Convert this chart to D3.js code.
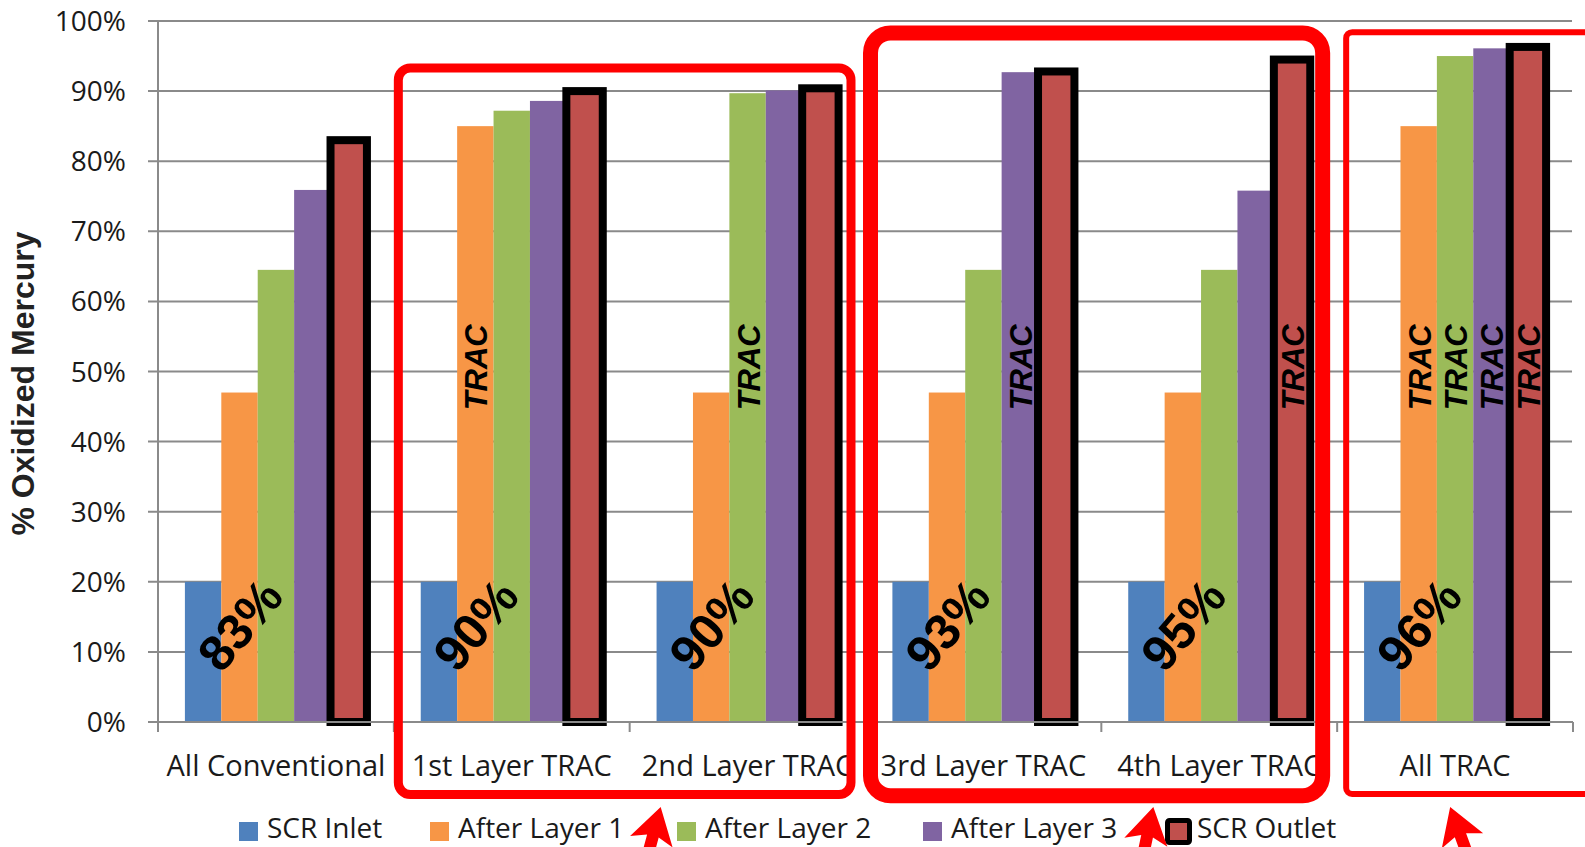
<!DOCTYPE html>
<html>
<head>
<meta charset="utf-8">
<script src="https://cdn.jsdelivr.net/npm/d3@7"></script>
<style>
  html, body { margin: 0; padding: 0; background: #fff; }
  svg { display: block; }
</style>
</head>
<body>
<script>
// ---------------- DATA ----------------
const categories = ["All Conventional", "1st Layer TRAC", "2nd Layer TRAC", "3rd Layer TRAC", "4th Layer TRAC", "All TRAC"];
const seriesNames = ["SCR Inlet", "After Layer 1", "After Layer 2", "After Layer 3", "SCR Outlet"];
const scrInlet    = [20, 20, 20, 20, 20, 20];
const afterLayer1 = [47, 85, 47, 47, 47, 85];
const afterLayer2 = [64.5, 87.2, 89.7, 64.5, 64.5, 95.0];
const afterLayer3 = [75.9, 88.6, 90.1, 92.7, 75.8, 96.1];
const scrOutlet   = [83.0, 90.0, 90.4, 92.8, 94.5, 96.3];
const outletLabels = ["83%", "90%", "90%", "93%", "95%", "96%"];
// which series (index into seriesNames) carry the "TRAC" tag, per category
const tracSeries = [[], [1], [2], [3], [4], [1, 2, 3, 4]];
const yTicks = [0, 10, 20, 30, 40, 50, 60, 70, 80, 90, 100];
const yTitle = "% Oxidized Mercury";
// highlighted groups of categories (first, last)
const highlightGroups = [["1st Layer TRAC", "2nd Layer TRAC"], ["3rd Layer TRAC", "4th Layer TRAC"], ["All TRAC", "All TRAC"]];

const seriesValues = [scrInlet, afterLayer1, afterLayer2, afterLayer3, scrOutlet];
const colors = ["#4F81BD", "#F79646", "#9BBB59", "#8064A2", "#C0504D"];

// ---------------- LAYOUT ----------------
const W = 1585, H = 847;
const svg = d3.select("body").append("svg").attr("width", W).attr("height", H);
svg.append("rect").attr("width", W).attr("height", H).attr("fill", "#fff");

const x0 = d3.scaleBand().domain(categories).range([158, 1573]).paddingInner(0).paddingOuter(0);
const x1 = d3.scaleBand().domain(seriesNames).range([0, x0.bandwidth()]).paddingInner(0).paddingOuter(0.739);
const y = d3.scaleLinear().domain([0, 100]).range([722, 21]);

const calibri = "'Open Sans', 'Noto Sans', sans-serif";
const arialB = "'Liberation Sans', Arial, sans-serif";
const gridCol = "#8a8a8a";

// gridlines
svg.append("g").selectAll("line").data(yTicks).join("line")
  .attr("x1", 148).attr("x2", 1572)
  .attr("y1", d => y(d)).attr("y2", d => y(d))
  .attr("stroke", gridCol).attr("stroke-width", 2);

// bars
const table = [];
categories.forEach((c, ci) => seriesNames.forEach((s, si) => table.push({c, ci, s, si, v: seriesValues[si][ci]})));
const barG = svg.append("g");
barG.selectAll("rect").data(table).join("rect")
  .attr("x", d => x0(d.c) + x1(d.s))
  .attr("y", d => y(d.v))
  .attr("width", x1.bandwidth())
  .attr("height", d => y(0) - y(d.v))
  .attr("fill", d => colors[d.si])
  .attr("stroke", d => d.si === 4 ? "#000" : "none")
  .attr("stroke-width", d => d.si === 4 ? 8 : 0);

// axes lines
svg.append("line").attr("x1", 158).attr("x2", 158).attr("y1", y(100)).attr("y2", y(0))
  .attr("stroke", gridCol).attr("stroke-width", 2);
svg.append("line").attr("x1", 148).attr("x2", 1573).attr("y1", y(0)).attr("y2", y(0))
  .attr("stroke", gridCol).attr("stroke-width", 2);
// x ticks at category boundaries
const bounds = categories.map(c => x0(c)).concat([x0.range()[1]]);
svg.append("g").selectAll("line").data(bounds).join("line")
  .attr("x1", d => d).attr("x2", d => d).attr("y1", y(0)).attr("y2", y(0) + 10)
  .attr("stroke", gridCol).attr("stroke-width", 2);

// y tick labels
svg.append("g").selectAll("text").data(yTicks).join("text")
  .attr("x", 126).attr("y", d => y(d) + 10)
  .attr("text-anchor", "end")
  .attr("font-family", calibri).attr("font-size", 28).attr("fill", "#1a1a1a")
  .text(d => d + "%");

// category labels
svg.append("g").selectAll("text").data(categories).join("text")
  .attr("x", d => x0(d) + x0.bandwidth() / 2).attr("y", 776)
  .attr("text-anchor", "middle")
  .attr("font-family", calibri).attr("font-size", 29).attr("fill", "#1a1a1a")
  .text(d => d);

// y axis title
svg.append("text")
  .attr("transform", `translate(34,${(y(0) + y(100)) / 2 + 12}) rotate(-90)`)
  .attr("text-anchor", "middle")
  .attr("font-family", arialB).attr("font-weight", "bold").attr("font-size", 32).attr("fill", "#222")
  .text(yTitle);

// TRAC tags
const tracData = [];
tracSeries.forEach((arr, ci) => arr.forEach(si => tracData.push({c: categories[ci], s: seriesNames[si]})));
svg.append("g").selectAll("text").data(tracData).join("text")
  .attr("transform", d => `translate(${x0(d.c) + x1(d.s) + x1.bandwidth() / 2 + 12},${y(50.6)}) rotate(-90)`)
  .attr("text-anchor", "middle")
  .attr("font-family", arialB).attr("font-weight", "bold").attr("font-style", "italic")
  .attr("font-size", 31).attr("fill", "#000")
  .text("TRAC");

// outlet % labels (rotated)
svg.append("g").selectAll("text").data(categories).join("text")
  .attr("transform", d => `translate(${x0(d) + x1(seriesNames[1]) + x1.bandwidth() / 2},${y(13.9)}) rotate(-50)`)
  .attr("text-anchor", "middle").attr("dy", "0.36em")
  .attr("font-family", arialB).attr("font-weight", "bold")
  .attr("font-size", 50).attr("fill", "#000")
  .text((d, i) => outletLabels[i]);

// red highlight boxes
const boxStyles = [
  {dl: 4.5, dr: -14.5, top: 93.3, bottom: 72.5, sw: 9, r: 12},
  {dl: 5, dr: -14.5, top: 98.3, bottom: 73.7, sw: 15, r: 20},
  {dl: 9, dr: 300, top: 98.4, bottom: 72, sw: 6, r: 6}
];
svg.append("g").selectAll("rect").data(highlightGroups).join("rect")
  .attr("x", (d, i) => x0(d[0]) + boxStyles[i].dl)
  .attr("y", (d, i) => y(boxStyles[i].top))
  .attr("width", (d, i) => x0(d[1]) + x0.bandwidth() + boxStyles[i].dr - (x0(d[0]) + boxStyles[i].dl))
  .attr("height", (d, i) => y(0) + boxStyles[i].bottom - y(boxStyles[i].top))
  .attr("rx", (d, i) => boxStyles[i].r)
  .attr("fill", "none").attr("stroke", "#FF0000")
  .attr("stroke-width", (d, i) => boxStyles[i].sw);

// legend
const legendX = [239, 430, 677, 923, 1165];
const leg = svg.append("g");
seriesNames.forEach((s, i) => {
  const lx = legendX[i];
  const g = leg.append("g");
  if (i === 4) {
    g.append("rect").attr("x", lx + 2.5).attr("y", 820.5).attr("width", 22).attr("height", 22)
      .attr("fill", colors[i]).attr("stroke", "#000").attr("stroke-width", 5).attr("rx", 2);
  } else {
    g.append("rect").attr("x", lx).attr("y", 822).attr("width", 19).attr("height", 19).attr("fill", colors[i]);
  }
  g.append("text").attr("x", lx + (i === 4 ? 32 : 28)).attr("y", 838)
    .attr("font-family", calibri).attr("font-size", 28).attr("fill", "#1a1a1a").text(s);
});

// arrows
const arrowShape = [[0, 0], [22, 36], [6, 30], [6, 80], [-6, 80], [-6, 30], [-22, 36]];
const arrows = [
  {c: "2nd Layer TRAC", dx: 31, a: 15},
  {c: "4th Layer TRAC", dx: 52, a: 12},
  {c: "All TRAC", dx: 113, a: -20}
];
svg.append("g").selectAll("path").data(arrows).join("path")
  .attr("transform", d => `translate(${x0(d.c) + d.dx},807) rotate(${d.a})`)
  .attr("d", d3.line()(arrowShape) + "Z")
  .attr("fill", "#FF0000");
</script>
</body>
</html>
